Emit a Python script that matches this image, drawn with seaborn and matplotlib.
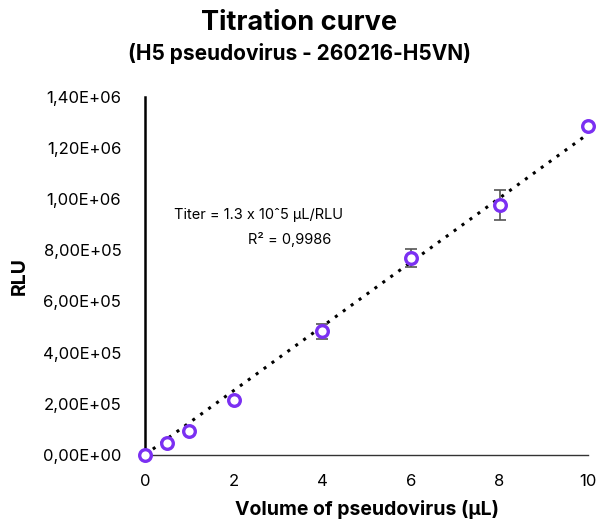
import matplotlib
matplotlib.use('Agg')
import matplotlib.pyplot as plt
from matplotlib.ticker import FuncFormatter
import seaborn as sns
import pandas as pd
import numpy as np

volume = [0, 0.5, 1, 2, 4, 6, 8, 10]
rlu = [0, 47000, 94000, 213000, 483000, 770000, 977000, 1287000]
rlu_err = [0, 0, 0, 0, 29000, 35000, 57000, 0]

titer_text = 'Titer = 1.3 x 10ˆ5 µL/RLU'
r2_text = 'R² = 0,9986'


def sci_comma(v, pos):
    return f'{v:.2E}'.replace('.', ',')


def plot_titration(df):
    sns.set_style('white', {'text.color': 'black', 'axes.labelcolor': 'black',
                            'xtick.color': 'black', 'ytick.color': 'black'})
    plt.rcParams['font.family'] = ['Inter', 'DejaVu Sans']
    fig = plt.figure(figsize=(5.99, 5.21), dpi=100)
    ax = fig.add_axes([0.242, 0.127, 0.74, 0.687])

    # trend line forced through origin
    slope = (df.volume * df.rlu).sum() / (df.volume ** 2).sum()
    fit = pd.DataFrame({'volume': [0, 10]})
    fit['rlu'] = slope * fit.volume
    sns.lineplot(data=fit, x='volume', y='rlu', ax=ax, color='black',
                 linestyle=(0, (1, 2.2)), linewidth=2.2, zorder=2)

    ax.errorbar(df.volume, df.rlu, yerr=df.err, fmt='none', ecolor='#555555',
                elinewidth=1.2, capsize=4, capthick=1.2, zorder=3)
    sns.scatterplot(data=df, x='volume', y='rlu', ax=ax, marker='o', s=70,
                    facecolor='white', edgecolor='#7b30f2', linewidth=2.4,
                    zorder=4, clip_on=False)

    ax.set_xlim(0, 10)
    ax.set_ylim(0, 1.4e6)
    ax.set_xticks(range(0, 11, 2))
    ax.set_yticks(np.arange(0, 1.41e6, 2e5))
    ax.yaxis.set_major_formatter(FuncFormatter(sci_comma))
    ax.tick_params(axis='both', length=0, labelsize=12)
    ax.tick_params(axis='y', pad=17)
    ax.tick_params(axis='x', pad=14)

    for side in ['top', 'right']:
        ax.spines[side].set_visible(False)
    ax.spines['left'].set_color('black')
    ax.spines['left'].set_linewidth(1.8)
    ax.spines['bottom'].set_color('#333333')
    ax.spines['bottom'].set_linewidth(1.0)

    ax.set_xlabel('Volume of pseudovirus (µL)', fontsize=14, fontweight='bold', labelpad=8)
    ax.set_ylabel('RLU', fontsize=14, fontweight='bold', labelpad=10)

    ax.text(2.57, 9.38e5, titer_text, ha='center', va='center', fontsize=10.5)
    ax.text(3.27, 8.41e5, r2_text, ha='center', va='center', fontsize=10.5)

    fig.text(0.5, 0.955, 'Titration curve', ha='center', va='center',
             fontsize=19.5, fontweight='bold')
    fig.text(0.5, 0.898, '(H5 pseudovirus - 260216-H5VN)', ha='center', va='center',
             fontsize=15, fontweight='bold')
    return fig


data = pd.DataFrame({'volume': volume, 'rlu': rlu, 'err': rlu_err})
fig = plot_titration(data)
fig.savefig('out.png', dpi=100)
